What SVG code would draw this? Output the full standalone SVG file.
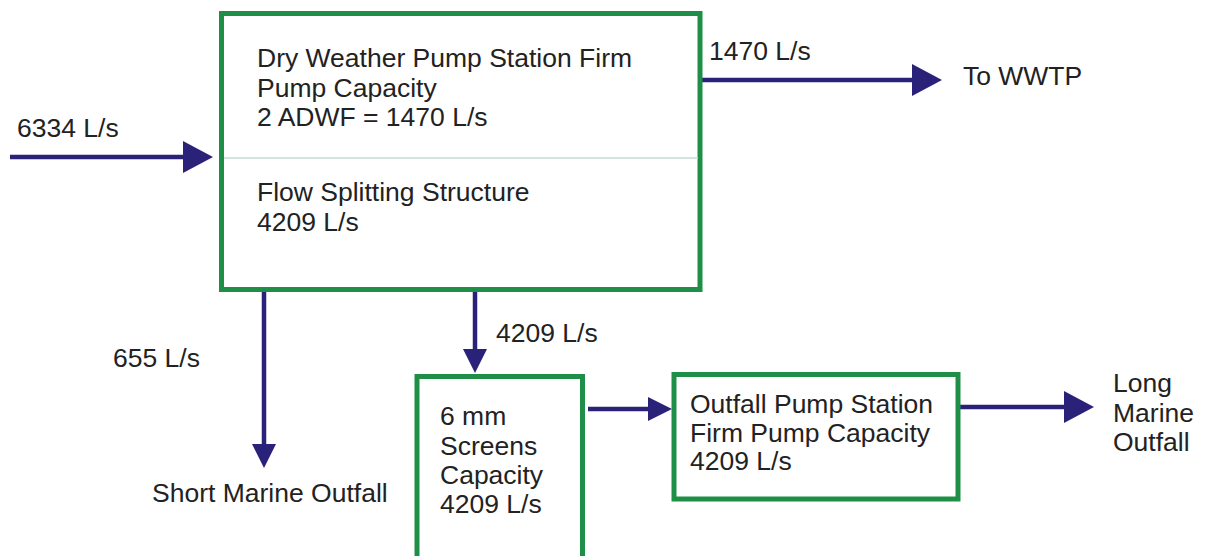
<svg xmlns="http://www.w3.org/2000/svg" width="1210" height="556" viewBox="0 0 1210 556">
<style>
  .box { fill: #ffffff; stroke: #1f8f47; stroke-width: 5; }
  .div { stroke: #c6dbd5; stroke-width: 1.5; }
  .flow { stroke: #2a2278; stroke-width: 4.5; fill: none; }
  .big { marker-end: url(#ahBig); }
  .small { marker-end: url(#ahSmall); }
  text { font-family: "Liberation Sans", Arial, sans-serif; font-size: 26.5px; fill: #222222; }
</style>
<defs>
  <marker id="ahBig" markerUnits="userSpaceOnUse" markerWidth="30" markerHeight="32" refX="4" refY="16" orient="auto" viewBox="0 0 30 32">
    <path d="M0,0 L30,16 L0,32 z" fill="#2a2278"/>
  </marker>
  <marker id="ahSmall" markerUnits="userSpaceOnUse" markerWidth="24" markerHeight="24" refX="4" refY="12" orient="auto" viewBox="0 0 24 24">
    <path d="M0,0 L24,12 L0,24 z" fill="#2a2278"/>
  </marker>
</defs>
<rect width="1210" height="556" fill="#ffffff"/>

<g id="connectors">
  <line class="flow big" x1="10" y1="157" x2="187" y2="157"/>
  <line class="flow big" x1="702" y1="80" x2="916" y2="80"/>
  <line class="flow big" x1="960" y1="407" x2="1068" y2="407"/>
  <line class="flow small" x1="264" y1="291" x2="264" y2="448"/>
  <line class="flow small" x1="475" y1="291" x2="475" y2="353"/>
  <line class="flow small" x1="588" y1="409" x2="652" y2="409"/>
</g>

<g id="main-box">
  <rect class="box" x="221.5" y="13.5" width="478.5" height="276"/>
  <line class="div" x1="224" y1="158" x2="698" y2="158"/>
  <text x="257" y="67">Dry Weather Pump Station Firm</text>
  <text x="257" y="97">Pump Capacity</text>
  <text x="257" y="126">2 ADWF = 1470 L/s</text>
  <text x="257" y="201">Flow Splitting Structure</text>
  <text x="257" y="231">4209 L/s</text>
</g>

<g id="screens-box">
  <rect class="box" x="417" y="376.5" width="165.5" height="200"/>
  <text x="440" y="425">6 mm</text>
  <text x="440" y="455">Screens</text>
  <text x="440" y="484">Capacity</text>
  <text x="440" y="513">4209 L/s</text>
</g>

<g id="outfall-box">
  <rect class="box" x="674" y="374.5" width="284" height="124.5"/>
  <text x="690" y="413">Outfall Pump Station</text>
  <text x="690" y="442">Firm Pump Capacity</text>
  <text x="690" y="470">4209 L/s</text>
</g>

<g id="labels">
  <text x="17" y="137">6334 L/s</text>
  <text x="709" y="60">1470 L/s</text>
  <text x="963" y="85">To WWTP</text>
  <text x="113" y="367">655 L/s</text>
  <text x="152" y="502">Short Marine Outfall</text>
  <text x="496" y="342">4209 L/s</text>
  <text x="1113" y="392">Long</text>
  <text x="1113" y="422">Marine</text>
  <text x="1113" y="451">Outfall</text>
</g>
</svg>
